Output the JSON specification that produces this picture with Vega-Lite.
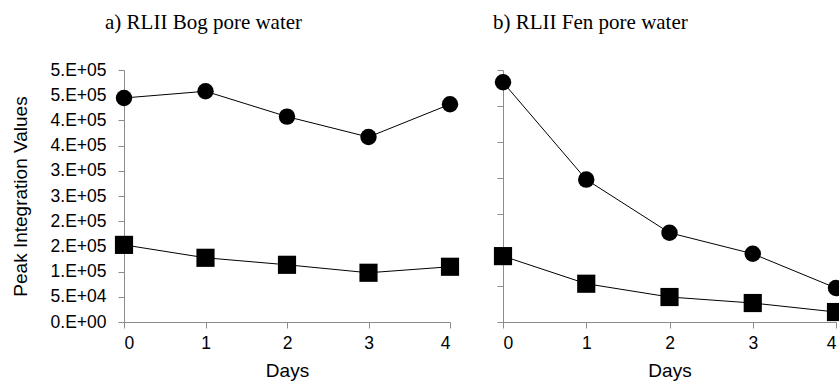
{
  "$schema": "https://vega.github.io/schema/vega-lite/v6.json",
  "padding": {"left": 11, "top": 11, "right": 0, "bottom": 0},
  "background": "white",
  "spacing": 33,
  "data": {
    "values": [
      {"panel": "Bog", "day": 0, "series": "Circle", "value": 444500},
      {"panel": "Bog", "day": 1, "series": "Circle", "value": 457800},
      {"panel": "Bog", "day": 2, "series": "Circle", "value": 407500},
      {"panel": "Bog", "day": 3, "series": "Circle", "value": 367000},
      {"panel": "Bog", "day": 4, "series": "Circle", "value": 432000},
      {"panel": "Bog", "day": 0, "series": "Square", "value": 153000},
      {"panel": "Bog", "day": 1, "series": "Square", "value": 127400},
      {"panel": "Bog", "day": 2, "series": "Square", "value": 113500},
      {"panel": "Bog", "day": 3, "series": "Square", "value": 97700},
      {"panel": "Bog", "day": 4, "series": "Square", "value": 109600},
      {"panel": "Fen", "day": 0, "series": "Circle", "value": 665900},
      {"panel": "Fen", "day": 1, "series": "Circle", "value": 395600},
      {"panel": "Fen", "day": 2, "series": "Circle", "value": 247800},
      {"panel": "Fen", "day": 3, "series": "Circle", "value": 189500},
      {"panel": "Fen", "day": 4, "series": "Circle", "value": 94300},
      {"panel": "Fen", "day": 0, "series": "Square", "value": 183000},
      {"panel": "Fen", "day": 1, "series": "Square", "value": 106300},
      {"panel": "Fen", "day": 2, "series": "Square", "value": 69400},
      {"panel": "Fen", "day": 3, "series": "Square", "value": 52700},
      {"panel": "Fen", "day": 4, "series": "Square", "value": 27700}
    ]
  },
  "hconcat": [
    {
      "width": 326,
      "height": 252,
      "title": {"text": "a) RLII Bog pore water", "anchor": "start", "frame": "group", "dx": -19, "offset": 28},
      "transform": [{"filter": "datum.panel === 'Bog'"}],
      "encoding": {
        "x": {"field": "day", "type": "quantitative", "title": "Days",
              "scale": {"domain": [0, 4], "nice": false, "zero": false},
              "axis": {"values": [0, 1, 2, 3, 4], "format": "d", "labelPadding": 6, "titlePadding": 10}},
        "y": {"field": "value", "type": "quantitative", "title": "Peak Integration Values",
              "scale": {"domain": [0, 500000], "nice": false},
              "axis": {"values": [0, 50000, 100000, 150000, 200000, 250000, 300000, 350000, 400000, 450000, 500000],
                       "titlePadding": 20, "labelPadding": 12,
                       "labelExpr": "datum.value == 0 ? '0.E+00' : round(datum.value / pow(10, floor(log(datum.value) / LN10 + 1e-9))) + '.E+' + (floor(log(datum.value) / LN10 + 1e-9) < 10 ? '0' : '') + floor(log(datum.value) / LN10 + 1e-9)"}}
      },
      "layer": [
        {"mark": {"type": "line", "color": "black", "strokeWidth": 1},
         "encoding": {"detail": {"field": "series"}}},
        {"mark": {"type": "point", "filled": true, "color": "black", "opacity": 1},
         "encoding": {
           "shape": {"field": "series", "type": "nominal", "scale": {"domain": ["Circle", "Square"], "range": ["circle", "square"]}, "legend": null},
           "size": {"field": "series", "type": "nominal", "scale": {"domain": ["Circle", "Square"], "range": [270, 330]}, "legend": null}
         }}
      ]
    },
    {
      "width": 333,
      "height": 252,
      "title": {"text": "b) RLII Fen pore water", "anchor": "start", "frame": "group", "dx": -10, "offset": 37},
      "transform": [{"filter": "datum.panel === 'Fen'"}],
      "encoding": {
        "x": {"field": "day", "type": "quantitative", "title": "Days",
              "scale": {"domain": [0, 4], "nice": false, "zero": false},
              "axis": {"values": [0, 1, 2, 3, 4], "format": "d", "labelPadding": 6, "titlePadding": 10}},
        "y": {"field": "value", "type": "quantitative", "title": null,
              "scale": {"domain": [0, 700000], "nice": false},
              "axis": {"values": [0, 100000, 200000, 300000, 400000, 500000, 600000, 700000], "labels": false}}
      },
      "layer": [
        {"mark": {"type": "line", "color": "black", "strokeWidth": 1},
         "encoding": {"detail": {"field": "series"}}},
        {"mark": {"type": "point", "filled": true, "color": "black", "opacity": 1},
         "encoding": {
           "shape": {"field": "series", "type": "nominal", "scale": {"domain": ["Circle", "Square"], "range": ["circle", "square"]}, "legend": null},
           "size": {"field": "series", "type": "nominal", "scale": {"domain": ["Circle", "Square"], "range": [270, 330]}, "legend": null}
         }}
      ]
    }
  ],
  "resolve": {"scale": {"shape": "independent", "size": "independent"}},
  "config": {
    "view": {"stroke": null},
    "font": "Liberation Sans",
    "title": {"font": "Liberation Serif", "fontSize": 21, "fontWeight": "normal", "color": "black"},
    "axis": {
      "grid": false,
      "domainColor": "#8c8c8c",
      "tickColor": "#8c8c8c",
      "tickSize": 6,
      "labelFont": "Liberation Sans",
      "labelFontSize": 17.5,
      "labelColor": "black",
      "titleFont": "Liberation Sans",
      "titleFontSize": 19,
      "titleFontWeight": "normal",
      "titleColor": "black"
    }
  }
}
